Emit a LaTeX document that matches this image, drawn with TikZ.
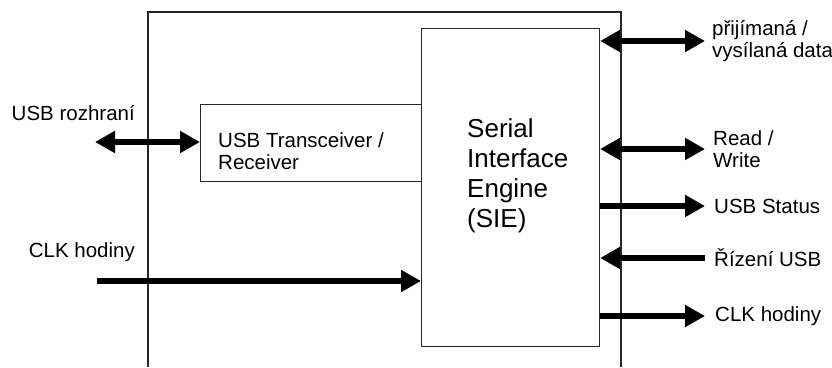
\documentclass[tikz,border=0pt]{standalone}
\usepackage{fontspec}
\setmainfont{Liberation Sans}
\usepackage{tikz}
\usetikzlibrary{arrows.meta, positioning}

\tikzset{
  frame/.style={draw=black!85, line width=1.1pt},
  bus/.style={line width=5.5pt, -{Triangle[length=20pt,width=21pt]}},
  dbus/.style={line width=5.5pt, {Triangle[length=20pt,width=21pt]}-{Triangle[length=20pt,width=21pt]}},
  sig/.style={font=\fontsize{20.5}{22}\selectfont, align=left, inner xsep=7pt, inner ysep=0pt},
}

\begin{document}
\begin{tikzpicture}[x=1pt, y=-1pt]
    \useasboundingbox (0,0) rectangle (832,367);
    % ---- USB block, open at the bottom ----
    \draw[frame] (148,367) -- (148,12) -- (621,12) -- (621,367);
    % ---- SIE and transceiver ----
    \node[frame, anchor=north west, minimum width=178pt, minimum height=318pt] (sie) at (421,28) {};
    \node[anchor=west, align=left, inner sep=0pt, font=\fontsize{26}{30}\selectfont] (sietext)
      at ([xshift=46pt,yshift=12pt]sie.west) {Serial\\Interface\\Engine\\(SIE)};
    \node[frame, anchor=north west, minimum width=221pt, minimum height=77pt] (trx) at (200,104) {};
    \node[sig, anchor=west, inner xsep=0pt] (trxtext)
      at ([xshift=18pt,yshift=-8pt]trx.west) {USB Transceiver /\\Receiver};
    % ---- left side inputs ----
    \node[sig, anchor=east, inner xsep=0pt] (usb) at (135,113) {USB rozhraní};
    \coordinate (usbend) at (95,142);
    \draw[dbus] (usbend) -- (usbend -| trx.west);
    \node[sig, anchor=east, inner xsep=0pt] (clk) at (135,252) {CLK hodiny};
    \coordinate (clkend) at (97,281);
    \draw[bus] (clkend) -- (clkend -| sie.west);
    % ---- right side signals ----
    \node[sig, anchor=west] (data) at (705,41) {přijímaná /\\vysílaná data};
    \node[sig, anchor=west, inner xsep=8pt] (rw) at (705,149) {Read /\\Write};
    \node[sig, anchor=west, inner xsep=9pt] (status) at (705,206) {USB Status};
    \node[sig, anchor=west, inner xsep=9pt] (ctrl) at (705,258) {Řízení USB};
    \node[sig, anchor=west, inner xsep=10pt] (clkout) at (705,316) {CLK hodiny};
    \draw[dbus] (sie.east |- data.west) -- (data.west);
    \draw[dbus] (sie.east |- rw.west) -- (rw.west);
    \draw[bus] (sie.east |- status.west) -- (status.west);
    \draw[bus] (ctrl.west) -- (ctrl.west -| sie.east);
    \draw[bus] (sie.east |- clkout.west) -- (clkout.west);
\end{tikzpicture}
\end{document}
